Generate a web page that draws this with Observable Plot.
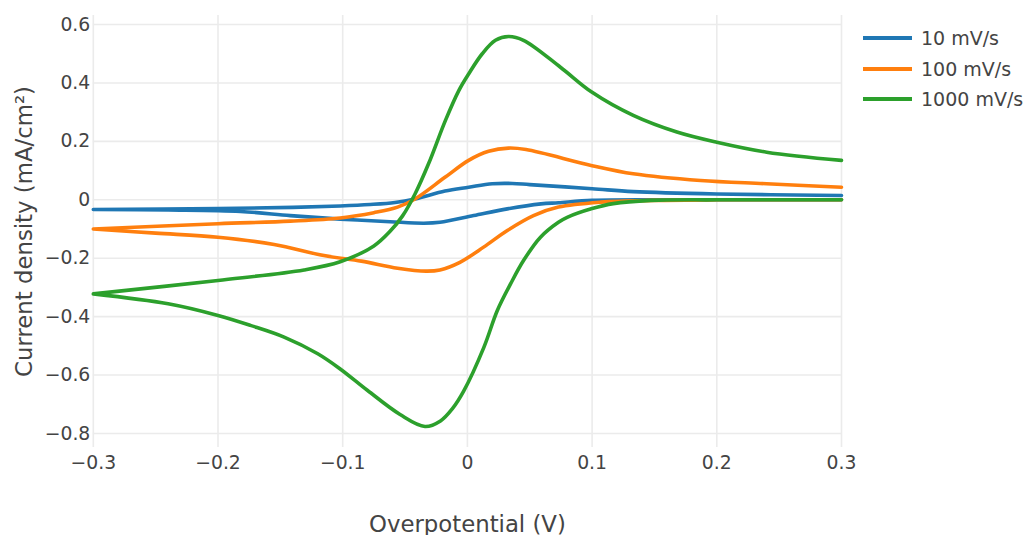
<!DOCTYPE html>
<html><head><meta charset="utf-8">
<script src="https://cdn.jsdelivr.net/npm/d3@7"></script>
<script src="https://cdn.jsdelivr.net/npm/@observablehq/plot@0.6"></script>
<style>
body{margin:0;background:#fff;}
#wrap{position:relative;width:1029px;height:535px;font-family:"DejaVu Sans",Verdana,sans-serif;color:#444;}
#legend{position:absolute;left:863px;top:23px;}
.item{display:flex;align-items:center;height:30.5px;font-size:19px;white-space:nowrap;}
.swatch{width:49px;height:4px;margin-right:9px;}
</style></head><body><div id="wrap"><div id="legend"></div></div>
<script>
const seriesNames = ["10 mV/s", "100 mV/s", "1000 mV/s"];
const seriesColors = ["#1f77b4", "#ff7f0e", "#2ca02c"];

// 10 mV/s: cathodic sweep (0.3 -> -0.3) then anodic sweep (-0.3 -> 0.3)
const blueRevX = [0.3, 0.2, 0.15, 0.1, 0.073, 0.059, 0.032, 0.005, -0.022, -0.035, -0.062, -0.102, -0.142, -0.182, -0.24, -0.3];
const blueRevY = [0, 0, 0, -0.002, -0.010, -0.014, -0.031, -0.054, -0.077, -0.080, -0.075, -0.066, -0.054, -0.040, -0.035, -0.033];
const blueFwdX = [-0.3, -0.2, -0.14, -0.102, -0.078, -0.058, -0.042, -0.018, 0.001, 0.02, 0.036, 0.05, 0.1, 0.133, 0.2, 0.3];
const blueFwdY = [-0.033, -0.030, -0.026, -0.021, -0.016, -0.009, 0.003, 0.030, 0.043, 0.055, 0.056, 0.052, 0.038, 0.028, 0.020, 0.015];

// 100 mV/s
const orangeRevX = [0.3, 0.2, 0.15, 0.107, 0.073, 0.053, 0.032, 0.013, -0.006, -0.022, -0.033, -0.056, -0.085, -0.115, -0.155, -0.2, -0.25, -0.3];
const orangeRevY = [0, 0, -0.002, -0.008, -0.025, -0.054, -0.105, -0.162, -0.214, -0.240, -0.244, -0.234, -0.210, -0.191, -0.153, -0.128, -0.114, -0.100];
const orangeFwdX = [-0.3, -0.2, -0.142, -0.102, -0.075, -0.056, -0.042, -0.018, 0.001, 0.017, 0.033, 0.047, 0.1, 0.133, 0.187, 0.24, 0.3];
const orangeFwdY = [-0.100, -0.082, -0.073, -0.062, -0.044, -0.025, 0.003, 0.077, 0.135, 0.166, 0.177, 0.172, 0.117, 0.089, 0.066, 0.055, 0.043];

// 1000 mV/s
const greenRevX = [0.3, 0.2, 0.147, 0.117, 0.1, 0.08, 0.073, 0.0586, 0.045, 0.0346, 0.024, 0.0132, -0.003, -0.012, -0.0216, -0.034, -0.054, -0.08, -0.102, -0.12, -0.147, -0.174, -0.2, -0.24, -0.3];
const greenRevY = [0, 0, -0.002, -0.013, -0.030, -0.060, -0.077, -0.128, -0.208, -0.288, -0.379, -0.505, -0.655, -0.715, -0.757, -0.776, -0.735, -0.653, -0.579, -0.527, -0.470, -0.430, -0.396, -0.356, -0.322];
const greenFwdX = [-0.3, -0.2, -0.131, -0.102, -0.075, -0.062, -0.052, -0.042, -0.031, -0.0176, -0.0069, 0.001, 0.0119, 0.0225, 0.033, 0.045, 0.0746, 0.1, 0.133, 0.168, 0.2, 0.24, 0.3];
const greenFwdY = [-0.322, -0.276, -0.240, -0.212, -0.158, -0.108, -0.055, 0.020, 0.125, 0.272, 0.374, 0.431, 0.500, 0.546, 0.559, 0.546, 0.454, 0.368, 0.289, 0.232, 0.197, 0.163, 0.135];

const xTicks = [-0.3, -0.2, -0.1, 0, 0.1, 0.2, 0.3];
const yTicks = [-0.8, -0.6, -0.4, -0.2, 0, 0.2, 0.4, 0.6];
const xDomain = [-0.3, 0.3];
const yDomain = [-0.848, 0.631];

const sweeps = [
  [blueRevX, blueRevY, blueFwdX, blueFwdY],
  [orangeRevX, orangeRevY, orangeFwdX, orangeFwdY],
  [greenRevX, greenRevY, greenFwdX, greenFwdY]
];
const rows = [];
sweeps.forEach(([rx, ry, fx, fy], i) => {
  rx.forEach((x, j) => rows.push({series: seriesNames[i], x, y: ry[j]}));
  fx.forEach((x, j) => rows.push({series: seriesNames[i], x, y: fy[j]}));
});

const fmt = d => d === 0 ? "0" : d3.format(".1f")(d);

const chart = Plot.plot({
  width: 1029, height: 535,
  marginLeft: 92.8, marginRight: 188, marginTop: 15, marginBottom: 88,
  style: {fontFamily: "DejaVu Sans, Verdana, sans-serif", fontSize: "18.8px", color: "#444", background: "#fff", overflow: "visible"},
  x: {domain: xDomain},
  y: {domain: yDomain},
  color: {domain: seriesNames, range: seriesColors},
  marks: [
    Plot.gridX(xTicks, {stroke: "#ebebeb", strokeOpacity: 1, strokeWidth: 1.6}),
    Plot.gridY(yTicks, {stroke: "#ebebeb", strokeOpacity: 1, strokeWidth: 1.6}),
    Plot.axisX(xTicks, {tickSize: 0, tickPadding: 8.5, tickFormat: fmt, label: null, fill: "#444"}),
    Plot.axisX({ticks: [], label: "Overpotential (V)", labelAnchor: "center", labelArrow: "none", labelOffset: 84, fontSize: 22.8, fill: "#444"}),
    Plot.axisY(yTicks, {tickSize: 0, tickPadding: 3, tickFormat: fmt, label: null, fill: "#444"}),
    Plot.axisY({ticks: [], label: "Current density (mA/cm²)", labelAnchor: "center", labelArrow: "none", labelOffset: 78, fontSize: 22.8, fill: "#444"}),
    Plot.line(rows, {x: "x", y: "y", z: "series", stroke: "series", strokeWidth: 3.6, curve: "catmull-rom"})
  ]
});
document.getElementById("wrap").prepend(chart);

const legend = d3.select("#legend");
seriesNames.forEach((name, i) => {
  const item = legend.append("div").attr("class", "item");
  item.append("div").attr("class", "swatch").style("background", seriesColors[i]);
  item.append("span").text(name);
});
</script>
</body></html>
